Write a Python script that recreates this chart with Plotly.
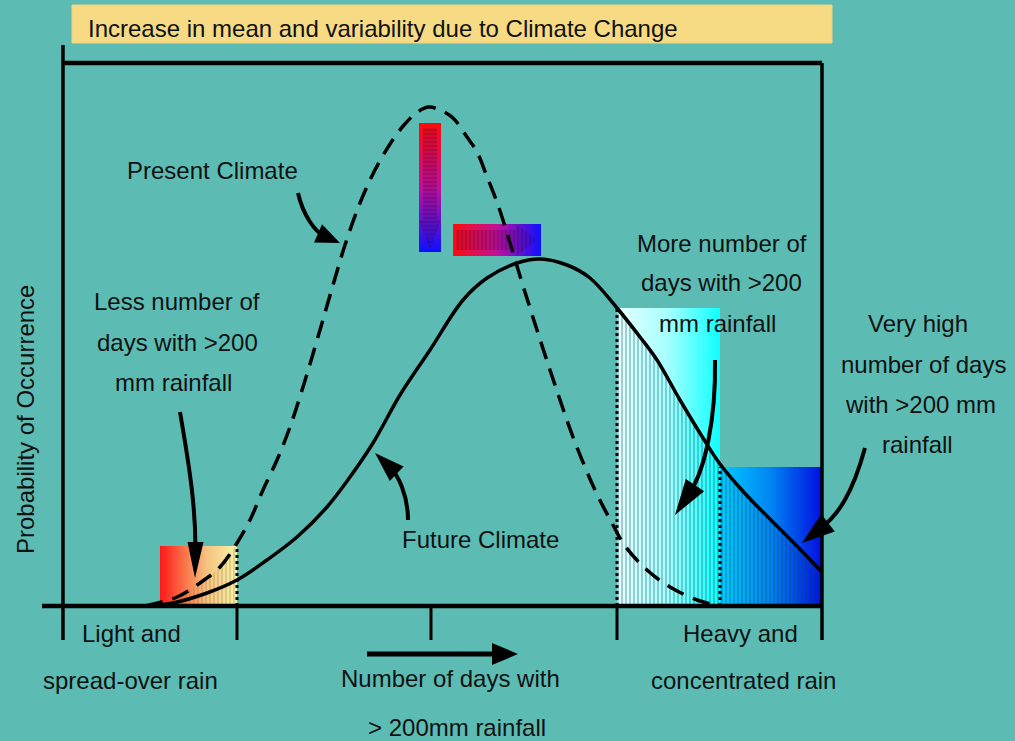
import math
import plotly.graph_objects as go

# ---------------- data (x: days index, y: probability, arbitrary units) ----------------
present_x = [82, 114, 137, 157, 174, 187, 200, 214, 227, 240, 257, 270, 282, 295, 307, 318, 329, 341,
             352, 365, 377, 390, 404, 414, 423, 435, 447, 457, 474, 492, 510, 532, 550, 562, 584, 607,
             634, 652]
present_y = [0, 9, 23, 39, 63, 86, 116, 146, 179, 219, 276, 321, 361, 398, 426, 447, 465, 481,
             492, 499, 496, 488, 469, 454, 432, 401, 363, 330, 276, 221, 169, 116, 81, 60, 36, 19,
             6, 1]

future_x = [87, 110, 144, 174, 204, 234, 264, 287, 310, 337, 367, 400, 424, 454, 477, 504, 527,
            554, 577, 594, 617, 640, 657, 677, 694, 727, 759]
future_y = [0, 3, 13, 26, 46, 69, 99, 129, 163, 211, 256, 306, 328, 343, 347, 341, 328,
            298, 269, 246, 206, 168, 142, 118, 100, 67, 34]

# tail regions (x start, x end, height)
tail_names = ["light", "more", "very_high"]
tail_x0 = [97, 554, 657]
tail_x1 = [174, 657, 759]
tail_top = [60, 298, 139]

# shift indicators (peak decrease, mean increase)
shift_v = [356, 378, 354, 483]   # x0, x1, y0, y1
shift_h = [390, 478, 350, 382]

tick_x = [0, 174, 368, 554, 759]

title_text = "Increase in mean and variability due to Climate Change"
y_title = "Probability of Occurrence"
label_texts = ["Present Climate",
               "Less number of", "days with >200", "mm rainfall",
               "Future Climate",
               "More number of", "days with >200", "mm rainfall",
               "Very high", "number of days", "with >200 mm", "rainfall",
               "Light and", "spread-over rain",
               "Number of days with", "> 200mm rainfall",
               "Heavy and", "concentrated rain"]

# ---------------- layout constants ----------------
label_pos = [(149, 436),
             (114, 305), (114, 264), (110, 224),
             (417, 67),
             (659, 363), (658, 324), (654, 283),
             (855, 283), (860, 242), (857, 202), (854, 162),
             (68, -27), (67, -74),
             (387, -72), (394, -121),
             (677, -27), (680, -74)]

BG = "#5cbcb4"
FONT = "Liberation Sans, Arial, sans-serif"
TXT = "#111111"

tail_scales = [
    [[0, "#ff1a1a"], [0.3, "#fb6e46"], [0.6, "#f7c17f"], [1, "#f7f3a8"]],
    [[0, "#e6ffff"], [0.5, "#a4ffff"], [1, "#10ffff"]],
    [[0, "#00ccff"], [0.5, "#0084f2"], [1, "#0010e0"]],
]
shift_scale = [[0, "#ff0a0a"], [0.5, "#c0109a"], [1, "#1010ff"]]


def edges(a, b, n):
    return [a + (b - a) * i / n for i in range(n + 1)]


fig = go.Figure()
N = 80

# tail gradient boxes
for x0, x1, top, cs in zip(tail_x0, tail_x1, tail_top, tail_scales):
    fig.add_trace(go.Heatmap(x=edges(x0, x1, N), y=[0, top],
                             z=[[i / (N - 1) for i in range(N)]],
                             colorscale=cs, zmin=0, zmax=1, showscale=False,
                             hoverinfo="skip"))

# striped texture under the curves inside the tail boxes
sub_p = [(x, y) for x, y in zip(present_x, present_y) if tail_x0[0] <= x <= tail_x1[0]]
fig.add_trace(go.Scatter(x=[p[0] for p in sub_p], y=[p[1] for p in sub_p], mode="lines",
                         line=dict(width=0, shape="spline"), fill="tozeroy",
                         fillcolor="rgba(0,0,0,0)",
                         fillpattern=dict(shape="|", fgcolor="rgba(110,90,30,0.55)", size=4, solidity=0.35),
                         hoverinfo="skip"))
sub_f = [(x, y) for x, y in zip(future_x, future_y) if tail_x0[1] <= x <= tail_x1[2]]
fig.add_trace(go.Scatter(x=[p[0] for p in sub_f], y=[p[1] for p in sub_f], mode="lines",
                         line=dict(width=0, shape="spline"), fill="tozeroy",
                         fillcolor="rgba(0,0,0,0)",
                         fillpattern=dict(shape="|", fgcolor="rgba(0,70,90,0.6)", size=4, solidity=0.45),
                         hoverinfo="skip"))

# curves
fig.add_trace(go.Scatter(x=present_x, y=present_y, mode="lines",
                         line=dict(color="black", width=3.5, dash="18px,10px", shape="spline", smoothing=1.0),
                         hoverinfo="skip"))
fig.add_trace(go.Scatter(x=future_x, y=future_y, mode="lines",
                         line=dict(color="black", width=3.5, shape="spline", smoothing=1.0),
                         hoverinfo="skip"))

# gradient shift arrows
M = 60
fig.add_trace(go.Heatmap(x=[shift_v[0], shift_v[1]], y=edges(shift_v[2], shift_v[3], M),
                         z=[[1 - i / (M - 1)] for i in range(M)],
                         colorscale=shift_scale, zmin=0, zmax=1, showscale=False, hoverinfo="skip"))
fig.add_trace(go.Heatmap(x=edges(shift_h[0], shift_h[1], M), y=[shift_h[2], shift_h[3]],
                         z=[[i / (M - 1) for i in range(M)]],
                         colorscale=shift_scale, zmin=0, zmax=1, showscale=False, hoverinfo="skip"))

# inner textured arrow glyphs
vx0, vx1, vy0, vy1 = shift_v
vcx = (vx0 + vx1) / 2
v_poly = [(vx0 + 4, vy1 - 5), (vx1 - 4, vy1 - 5), (vx1 - 4, vy0 + 32), (vx1, vy0 + 32),
          (vcx, vy0 + 2), (vx0, vy0 + 32), (vx0 + 4, vy0 + 32), (vx0 + 4, vy1 - 5)]
fig.add_trace(go.Scatter(x=[p[0] for p in v_poly], y=[p[1] for p in v_poly], mode="lines",
                         line=dict(width=0), fill="toself", fillcolor="rgba(60,0,70,0.12)",
                         fillpattern=dict(shape="-", fgcolor="rgba(50,0,50,0.55)", size=4, solidity=0.35),
                         hoverinfo="skip"))
hx0, hx1, hy0, hy1 = shift_h
hcy = (hy0 + hy1) / 2
h_poly = [(hx0 + 3, hy1 - 6), (hx1 - 24, hy1 - 6), (hx1 - 24, hy1 - 1), (hx1 - 4, hcy),
          (hx1 - 24, hy0 + 1), (hx1 - 24, hy0 + 6), (hx0 + 3, hy0 + 6), (hx0 + 3, hy1 - 6)]
fig.add_trace(go.Scatter(x=[p[0] for p in h_poly], y=[p[1] for p in h_poly], mode="lines",
                         line=dict(width=0), fill="toself", fillcolor="rgba(60,0,70,0.12)",
                         fillpattern=dict(shape="|", fgcolor="rgba(50,0,50,0.55)", size=4, solidity=0.35),
                         hoverinfo="skip"))

shapes = []


def line(x0, y0, x1, y1, w=4, dash="solid", color="black"):
    shapes.append(dict(type="line", xref="x", yref="y", x0=x0, y0=y0, x1=x1, y1=y1,
                       line=dict(color=color, width=w, dash=dash)))


# title box
shapes.append(dict(type="rect", xref="x", yref="y", x0=9, x1=769, y0=563, y1=601,
                   fillcolor="#f6db84", line=dict(color="#f0d27a", width=1), layer="below"))

# frame
line(0, 543, 759, 543, w=4.5)
line(0, 561, 0, -34, w=3.5)
line(759, 543, 759, -34, w=3.5)
line(-21, 0, 759, 0, w=4.5)
for tx in tick_x[1:-1]:
    line(tx, 0, tx, -34, w=3)

# dotted tail boundaries
line(tail_x1[0], 0, tail_x1[0], tail_top[0], w=3, dash="dot")
line(tail_x0[1], 0, tail_x0[1], tail_top[1], w=3, dash="dot")
line(tail_x1[1], 0, tail_x1[1], tail_top[2], w=3, dash="dot")


def curved_arrow(p0, c1, c2, tip, head_len=30, head_w=9, w=4):
    dx, dy = tip[0] - c2[0], tip[1] - c2[1]
    L = math.hypot(dx, dy)
    ux, uy = dx / L, dy / L
    bx, by = tip[0] - ux * head_len * 0.7, tip[1] - uy * head_len * 0.7
    shapes.append(dict(type="path", xref="x", yref="y",
                       path=f"M{p0[0]},{p0[1]} C{c1[0]},{c1[1]} {c2[0]},{c2[1]} {bx},{by}",
                       line=dict(color="black", width=w)))
    hx, hy = tip[0] - ux * head_len, tip[1] - uy * head_len
    nx, ny = -uy, ux
    shapes.append(dict(type="path", xref="x", yref="y",
                       path=(f"M{tip[0]},{tip[1]} L{hx + nx * head_w},{hy + ny * head_w} "
                             f"L{hx - nx * head_w},{hy - ny * head_w} Z"),
                       fillcolor="black", line=dict(color="black", width=0)))


curved_arrow((235, 413), (240, 391), (252, 374), (277, 363), head_len=24, head_w=10)
curved_arrow((117, 194), (127, 136), (133, 96), (132, 28), head_len=36, head_w=8)
curved_arrow((345, 86), (345, 111), (335, 131), (312, 153), head_len=30, head_w=10)
curved_arrow((652, 246), (653, 186), (642, 136), (612, 91), head_len=36, head_w=11)
curved_arrow((802, 158), (789, 111), (775, 91), (739, 63), head_len=33, head_w=11)
curved_arrow((304, -48), (350, -48), (400, -48), (455, -48), head_len=26, head_w=11, w=5)

annotations = [dict(x=23, y=578, xref="x", yref="y", text=title_text, showarrow=False,
                    xanchor="left", yanchor="middle", font=dict(family=FONT, size=24, color=TXT)),
               dict(x=-38, y=186, xref="x", yref="y", text=y_title, showarrow=False,
                    textangle=-90, xanchor="center", yanchor="middle",
                    font=dict(family=FONT, size=24, color=TXT))]
for t, (x, y) in zip(label_texts, label_pos):
    annotations.append(dict(x=x, y=y, xref="x", yref="y", text=t, showarrow=False,
                            xanchor="center", yanchor="middle",
                            font=dict(family=FONT, size=24, color=TXT)))

fig.update_layout(
    width=1015, height=741,
    margin=dict(l=0, r=0, t=0, b=0, pad=0),
    paper_bgcolor=BG, plot_bgcolor=BG,
    showlegend=False,
    xaxis=dict(range=[-63, 952], visible=False, fixedrange=True),
    yaxis=dict(range=[-135, 606], visible=False, fixedrange=True),
    shapes=shapes, annotations=annotations,
)

fig.write_html("out.html",
               config={"displayModeBar": False},
               post_script="document.body.style.margin='0';document.body.style.overflow='hidden';"
                           "document.body.style.background='" + BG + "';")
